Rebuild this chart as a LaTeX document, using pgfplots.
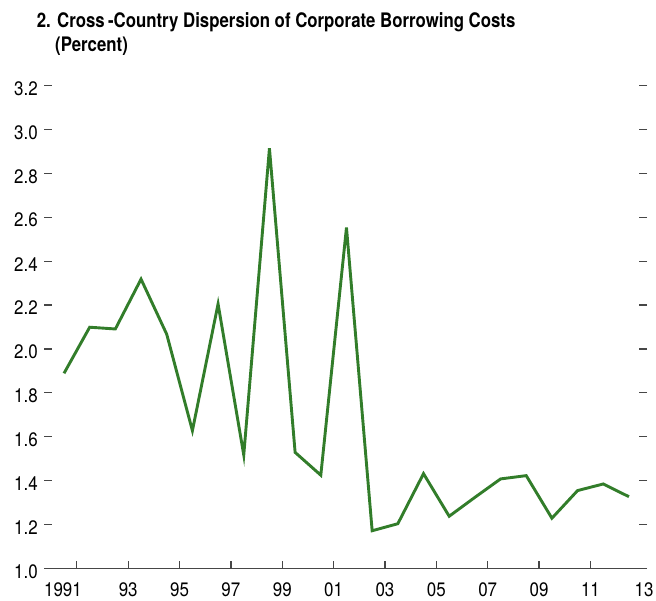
\documentclass[border=0pt]{standalone}
\usepackage{fontspec}
\setmainfont{TeX Gyre Heros}[FakeStretch=0.87]
\newfontfamily\titlefont{TeX Gyre Heros}[FakeStretch=0.84]
\usepackage{pgfplots}
\pgfplotsset{compat=1.18}

\definecolor{linegreen}{RGB}{50,125,42}
\definecolor{axisgray}{RGB}{70,70,70}

% dispersion series, percent
\pgfplotstableread{
year val
1991 1.889
1992 2.099
1993 2.091
1994 2.318
1995 2.067
1996 1.628
1997 2.205
1998 1.517
1999 2.914
2000 1.529
2001 1.425
2002 2.553
2003 1.172
2004 1.204
2005 1.432
2006 1.238
2007 1.324
2008 1.408
2009 1.423
2010 1.229
2011 1.355
2012 1.385
2013 1.327
}\dispersion

\begin{document}
\begin{tikzpicture}
\useasboundingbox (-44pt,-31.5pt) rectangle (612pt,568.5pt);
\begin{axis}[
  scale only axis,
  width=603pt, height=483pt,
  xmin=1990.221, xmax=2013.703,
  ymin=1.0, ymax=3.2,
  axis line style={draw=none},
  tick align=inside,
  major tick length=8pt,
  tick style={axisgray, line width=1.2pt},
  xtick pos=bottom,
  xtick={1991.5,1993.5,...,2011.5},
  xticklabels={},
  extra x ticks={1990.96,1993.5,1995.5,1997.5,1999.5,2001.5,2003.5,2005.5,2007.5,2009.5,2011.5,2013.59},
  extra x tick labels={1991,93,95,97,99,01,03,05,07,09,11,13},
  extra x tick style={major tick length=0pt, tick style={draw=none}},
  xticklabel style={inner sep=0pt, yshift=-14pt, font=\fontsize{19.5}{22}\selectfont},
  ytick={1.0,1.2,...,3.21},
  yticklabels={1.0,1.2,1.4,1.6,1.8,2.0,2.2,2.4,2.6,2.8,3.0,3.2},
  ytick pos=both,
  yticklabel pos=left,
  yticklabel style={inner sep=0pt, xshift=-6pt, yshift=-3pt, font=\fontsize{19.5}{22}\selectfont},
  clip=false,
]
\draw[axisgray, line width=1.3pt] (rel axis cs:0,0) -- (rel axis cs:1,0);
\addplot[linegreen, line width=2.9pt, mark=none] table[x=year, y=val] {\dispersion};
\end{axis}
\node[anchor=base west, inner sep=0pt, font=\titlefont\bfseries\fontsize{20}{24}\selectfont]
  at (-7.3pt,541.2pt) {2. Cross\,-Country Dispersion of Corporate Borrowing Costs};
\node[anchor=base west, inner sep=0pt, font=\titlefont\bfseries\fontsize{20}{24}\selectfont]
  at (11pt,516.5pt) {(Percent)};
\end{tikzpicture}
\end{document}
